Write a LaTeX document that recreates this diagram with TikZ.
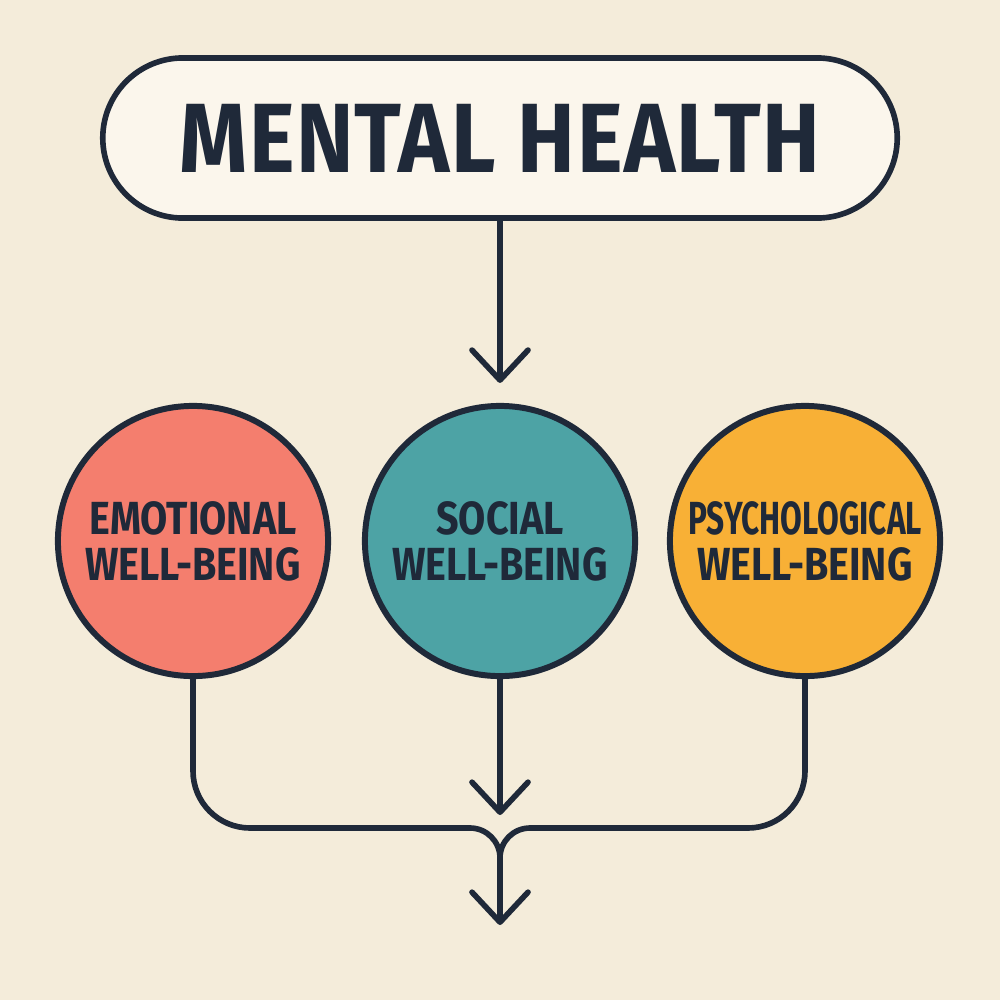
\documentclass[tikz,border=0pt]{standalone}
\usepackage{fontspec}
\setmainfont{Fira Sans}
\newfontfamily\titlefont[FakeStretch=0.88,LetterSpace=1.5]{Fira Sans}
\newfontfamily\condfont[FakeStretch=0.85]{Fira Sans}
\newfontfamily\narrowfont[FakeStretch=0.68]{Fira Sans}
\usetikzlibrary{arrows.meta}
\definecolor{bg}{HTML}{F4ECDA}
\definecolor{boxfill}{HTML}{FBF6EC}
\definecolor{ink}{HTML}{1F2939}
\definecolor{coral}{HTML}{F47E6E}
\definecolor{teal}{HTML}{4DA3A5}
\definecolor{amber}{HTML}{F8B036}
\begin{document}
\begin{tikzpicture}[x=0.01cm,y=-0.01cm,
  line/.style={draw=ink,line width=1.6pt,line cap=round,line join=round},
  arr/.style={line,-{Straight Barb[length=0.3cm,width=0.56cm,round]}},
  bubble/.style={circle,draw=ink,line width=1.7pt,minimum size=2.7cm,inner sep=0pt,
     align=center,text=ink,font=\condfont\bfseries\fontsize{13.2pt}{13.9pt}\selectfont},
  titlebox/.style={rectangle,rounded corners=0.8cm,draw=ink,line width=1.6pt,fill=boxfill,
     minimum width=7.94cm,minimum height=1.6cm,text=ink,font=\titlefont\bfseries\fontsize{28pt}{30pt}\selectfont}]
\fill[bg] (0,0) rectangle (1000,1000);
\useasboundingbox (0,0) rectangle (1000,1000);
\node[titlebox] (title) at (500,138) {\raisebox{-0.03cm}{MENTAL HEALTH}};
\node[bubble,fill=coral] (emo) at (193,541) {\raisebox{-0.03cm}{EMOTIONAL}\\WELL-BEING};
\node[bubble,fill=teal] (soc) at (500,541) {\raisebox{-0.03cm}{SOCIAL}\\WELL-BEING};
\node[bubble,fill=amber] (psy) at (805,541) {\raisebox{-0.03cm}{\narrowfont\bfseries PSYCHOLOGICAL}\\WELL-BEING};
\coordinate (hl) at (470,828);
\coordinate (hr) at (530,828);
\coordinate (merge) at (500,858);
\coordinate (midtip) at (500,815);
\coordinate (out) at (500,925);
\draw[arr,shorten >=0.2cm] (title.south) -- (soc.north);
\draw[arr] (soc.south) -- (midtip);
\draw[line,rounded corners=0.57cm] (emo.south) |- (hl);
\draw[line] (hl) to[out=0,in=90] (merge);
\draw[line,rounded corners=0.57cm] (psy.south) |- (hr);
\draw[line] (hr) to[out=180,in=90] (merge);
\draw[arr] (merge) -- (out);
\end{tikzpicture}
\end{document}
